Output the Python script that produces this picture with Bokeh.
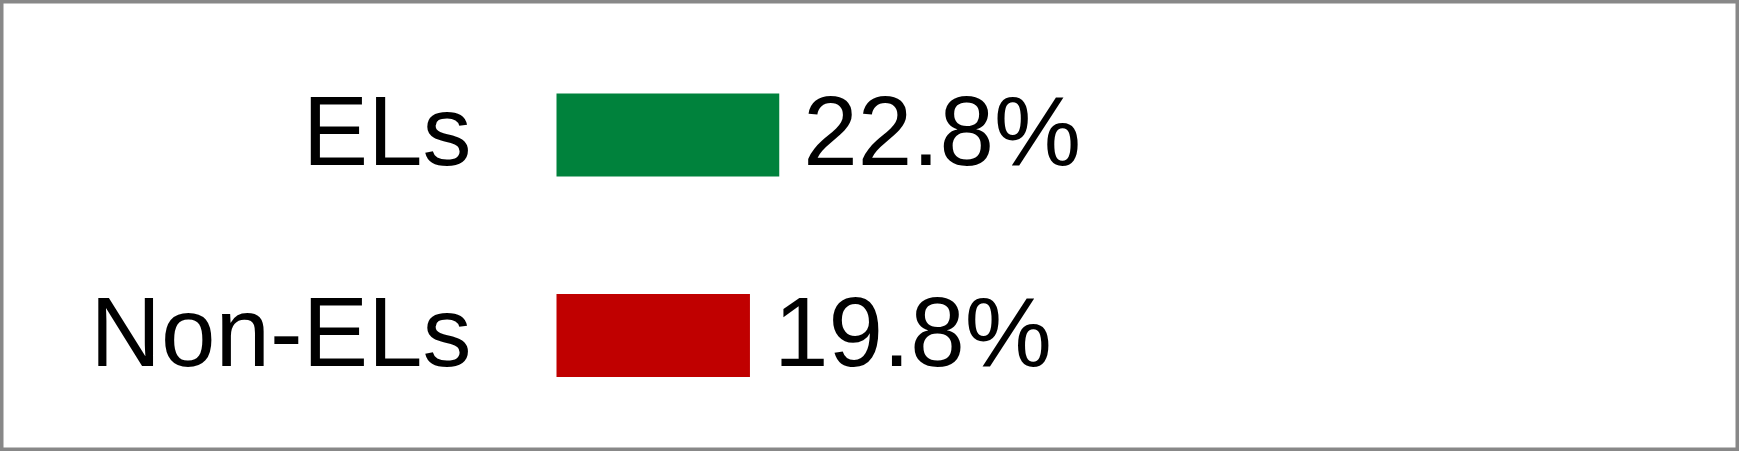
from bokeh.plotting import figure
from bokeh.models import ColumnDataSource, Range1d
from bokeh.embed import file_html
from bokeh.resources import INLINE
from bokeh.core.properties import value

# ---- data ----
categories = ["ELs", "Non-ELs"]
percents = [22.8, 19.8]
labels = ["22.8%", "19.8%"]
colors = ["#00823C", "#C00000"]

# ---- layout constants (pixels) ----
W, H = 1739, 451
PX_PER_PCT = 9.77        # horizontal scale
BAR_LEFT_PX = 556        # where 0% sits, from the left edge
ROW_PX = 200.5           # distance between row centres
FIRST_ROW_PX = 134.5     # centre of the first row, from the top
BAR_PX = 83              # bar thickness
FONT = "98px"

x_start = -BAR_LEFT_PX / PX_PER_PCT
x_end = (W - BAR_LEFT_PX) / PX_PER_PCT

n = len(categories)
rows = [n - 1 - i for i in range(n)]   # first category at the top
y_end = (n - 1) + FIRST_ROW_PX / ROW_PX
y_start = y_end - H / ROW_PX

src = ColumnDataSource(dict(cat=categories, row=rows, pct=percents, lab=labels, col=colors))

p = figure(width=W, height=H, output_backend="svg", toolbar_location=None,
           x_range=Range1d(x_start, x_end), y_range=Range1d(y_start, y_end),
           min_border=0, tools="")
p.axis.visible = False
p.grid.visible = False
p.outline_line_color = "#888888"
p.outline_line_width = 6
p.background_fill_color = "white"
p.border_fill_color = "white"

p.hbar(y="row", left=0, right="pct", height=BAR_PX / ROW_PX, fill_color="col",
       line_color=None, source=src)

p.text(x=0, y="row", text="cat", source=src, x_offset=-85, y_offset=-4,
       text_align="right", text_baseline="middle",
       text_font=value("Liberation Sans"), text_font_size=FONT, text_color="black")

p.text(x="pct", y="row", text="lab", source=src, x_offset=24, y_offset=-4,
       text_align="left", text_baseline="middle",
       text_font=value("Liberation Sans"), text_font_size=FONT, text_color="black")

open("out.html", "w").write(file_html(p, INLINE))
